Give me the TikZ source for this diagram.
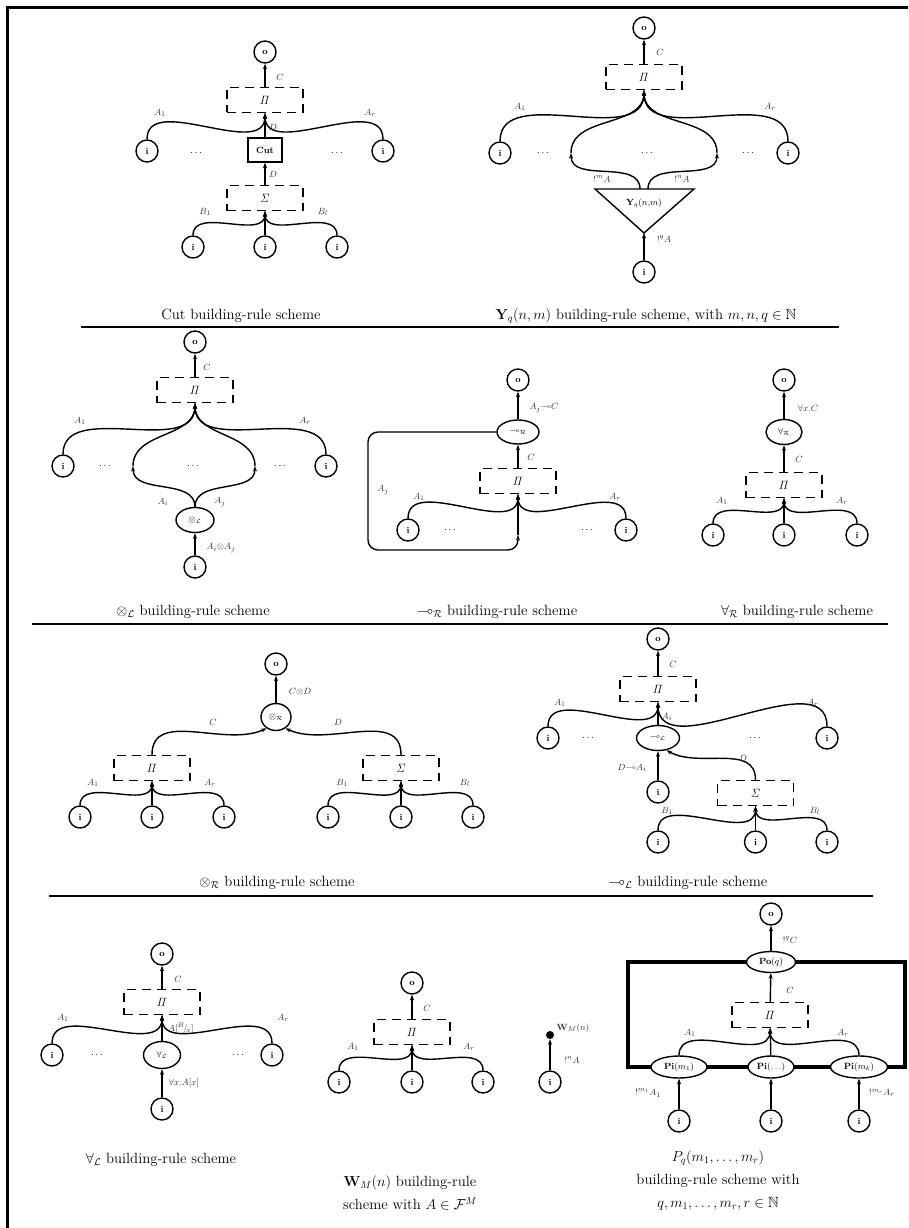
\documentclass[tikz,border=0pt]{standalone}
\usepackage{amsmath,amssymb}
\usetikzlibrary{arrows.meta,shapes.geometric,backgrounds}
\begin{document}
\begin{tikzpicture}[x=1pt,y=-1pt,
  lw/.style={line width=1.4pt},
  inode/.style={circle,draw,lw,minimum size=22pt,inner sep=0pt,font=\fontsize{9}{10}\selectfont\bfseries,fill=white},
  dbox/.style={draw,lw,dash pattern=on 9pt off 6pt,minimum width=76pt,minimum height=25pt,inner sep=0pt,font=\fontsize{11.5}{12}\selectfont},
  ell/.style={ellipse,draw,lw,minimum width=38pt,minimum height=25pt,inner sep=0pt,font=\fontsize{9}{10}\selectfont,fill=white},
  lbl/.style={font=\fontsize{9.5}{10}\selectfont,text=black!80,inner sep=0pt},
  dts/.style={font=\fontsize{10}{11}\selectfont,inner sep=0pt},
  arr/.style={lw,-{Stealth[length=5.5pt,width=4pt]}},
  captxt/.style={font=\fontsize{14.8}{23}\selectfont,align=center,inner sep=0pt},
  sepline/.style={line width=1.9pt},
]
\useasboundingbox (0,0) rectangle (908,1228);
\coordinate (f1) at (908,7.5); \coordinate (f2) at (7.5,7.5); \coordinate (f3) at (7.5,1228);
\draw[line width=2.6pt] (f1) -- (f2) -- (f3);

% separators
\coordinate (s1a) at (81,327); \coordinate (s1b) at (839,327);
\coordinate (s2a) at (32,624); \coordinate (s2b) at (888,624);
\coordinate (s3a) at (49,896); \coordinate (s3b) at (873,896);
\draw[sepline] (s1a) -- (s1b);
\draw[sepline] (s2a) -- (s2b);
\draw[sepline] (s3a) -- (s3b);

% ===== Cut =====
\node[inode] (co) at (265,52) {o};
\node[dbox] (cP) at (265,100) {$\mathit{\Pi}$};
\node[draw,lw,minimum width=34pt,minimum height=24pt,inner sep=0pt,font=\fontsize{9}{10}\selectfont\bfseries,fill=white] (ccut) at (265,150) {Cut};
\node[dbox] (cS) at (265,198) {$\mathit{\Sigma}$};
\node[inode] (ci1) at (147,151) {i};
\node[inode] (ci2) at (383,151) {i};
\node[inode] (cb1) at (193,247) {i};
\node[inode] (cb2) at (265,247) {i};
\node[inode] (cb3) at (337,247) {i};
\node[dts] (cd1) at (196,153) {$\ldots$};
\node[dts] (cd2) at (337,153) {$\ldots$};
\draw[arr] (cP) -- (co);
\draw[arr] (ci1.north) to[out=90,in=-90] (cP.south);
\draw[arr] (ci2.north) to[out=90,in=-90] (cP.south);
\draw[arr] (ccut) -- (cP);
\draw[arr] (cS) -- (ccut);
\draw[arr] (cb1.north) to[out=90,in=-90] (cS.south);
\draw[arr] (cb2) -- (cS);
\draw[arr] (cb3.north) to[out=90,in=-90] (cS.south);
\node[lbl] (cl1) at (280,77) {$C$};
\node[lbl] (cl2) at (160,113) {$A_1$};
\node[lbl] (cl3) at (370,113) {$A_r$};
\node[lbl] (cl4) at (273,127) {$D$};
\node[lbl] (cl5) at (273,174) {$D$};
\node[lbl] (cl6) at (205,212) {$B_1$};
\node[lbl] (cl7) at (323,212) {$B_l$};
\node[captxt] (cc) at (241,316) {Cut building-rule scheme};

% ===== Y =====
\node[inode] (yo) at (644,28) {o};
\node[dbox] (yP) at (644,77) {$\mathit{\Pi}$};
\node[inode] (yi1) at (500,153) {i};
\node[inode] (yi2) at (788,153) {i};
\coordinate (ya) at (571,153);
\coordinate (yb) at (717,153);
\coordinate (yt1) at (595,189); \coordinate (yt2) at (694,189); \coordinate (yt3) at (644,233);
\coordinate (ys1) at (640,189); \coordinate (ys2) at (648,189);
\draw[lw,line join=miter] (yt1) -- (yt2) -- (yt3) -- cycle;
\node[font=\fontsize{9}{10}\selectfont,inner sep=0pt] (ylab) at (644,203) {$\mathbf{Y}_q(n{,}m)$};
\node[inode] (yi3) at (644,272) {i};
\draw[arr] (yP) -- (yo);
\draw[arr] (yi1.north) to[out=90,in=-90] (yP.south);
\draw[arr] (yi2.north) to[out=90,in=-90] (yP.south);
\draw[arr] (ys1) to[out=90,in=-90] (ya);
\draw[arr] (ya) to[out=90,in=-90] (yP.south);
\draw[arr] (ys2) to[out=90,in=-90] (yb);
\draw[arr] (yb) to[out=90,in=-90] (yP.south);
\draw[arr] (yi3) -- (yt3);
\node[dts] (yd1) at (543,153) {$\ldots$};
\node[dts] (yd2) at (647,153) {$\ldots$};
\node[dts] (yd3) at (748,153) {$\ldots$};
\node[lbl] (yl1) at (660,52) {$C$};
\node[lbl] (yl2) at (520,107) {$A_1$};
\node[lbl] (yl3) at (770,107) {$A_r$};
\node[lbl] (yl4) at (602,179) {$!^{m}A$};
\node[lbl] (yl5) at (682,179) {$!^{n}A$};
\node[lbl] (yl6) at (664,239) {$!^{q}A$};
\node[captxt] (yc) at (646,316) {$\mathbf{Y}_q(n,m)$ building-rule scheme, with $m,n,q\in\mathbb{N}$};

% ===== tensor L =====
\node[inode] (to) at (195,342) {o};
\node[dbox] (tP) at (195,390) {$\mathit{\Pi}$};
\node[inode] (ti1) at (63,466) {i};
\node[inode] (ti2) at (326,466) {i};
\coordinate (ta) at (133,466); \coordinate (tb) at (255,466);
\node[ell] (tl) at (195,520) {$\otimes_{\mathcal{L}}$};
\node[inode] (ti3) at (195,567) {i};
\draw[arr] (tP) -- (to);
\draw[arr] (ti1.north) to[out=90,in=-90] (tP.south);
\draw[arr] (ti2.north) to[out=90,in=-90] (tP.south);
\draw[arr] (tl.north) to[out=90,in=-90] (ta);
\draw[arr] (ta) to[out=90,in=-90] (tP.south);
\draw[arr] (tl.north) to[out=90,in=-90] (tb);
\draw[arr] (tb) to[out=90,in=-90] (tP.south);
\draw[arr] (ti3) -- (tl);
\node[dts] (td1) at (105,466) {$\ldots$};
\node[dts] (td2) at (193,466) {$\ldots$};
\node[dts] (td3) at (280,466) {$\ldots$};
\node[lbl] (tl1) at (207,367) {$C$};
\node[lbl] (tl2) at (80,421) {$A_1$};
\node[lbl] (tl3) at (305,421) {$A_r$};
\node[lbl] (tl4) at (163,502) {$A_i$};
\node[lbl] (tl5) at (220,502) {$A_j$};
\node[lbl] (tl6) at (221,548) {$A_i{\otimes}A_j$};
\node[captxt] (tc) at (193,612) {$\otimes_{\mathcal{L}}$ building-rule scheme};

% ===== multimap R =====
\node[inode] (mo) at (518,380) {o};
\node[ell,minimum width=42pt,minimum height=24pt] (mr) at (518,432) {$\multimap_{\mathcal{R}}$};
\node[dbox] (mP) at (518,481) {$\mathit{\Pi}$};
\node[inode] (mi1) at (408,530) {i};
\node[inode] (mi2) at (626,530) {i};
\coordinate (maj) at (518,535);
\coordinate (mc1) at (368,432); \coordinate (mc2) at (368,550); \coordinate (mc3) at (518,550);
\draw[arr] (mr) -- (mo);
\draw[arr] (mP) -- (mr);
\draw[arr] (mi1.north) to[out=90,in=-90] (mP.south);
\draw[arr] (mi2.north) to[out=90,in=-90] (mP.south);
\draw[arr,rounded corners=10pt] (mr.west) -- (mc1) -- (mc2) -- (mc3) -- (maj);
\draw[arr] (maj) -- (mP.south);
\node[dts] (md1) at (450,530) {$\ldots$};
\node[dts] (md2) at (587,530) {$\ldots$};
\node[lbl] (ml1) at (544,408) {$A_j{\multimap}C$};
\node[lbl] (ml2) at (531,457) {$C$};
\node[lbl] (ml3) at (419,497) {$A_1$};
\node[lbl] (ml4) at (615,497) {$A_r$};
\node[lbl] (ml5) at (383,490) {$A_j$};
\node[captxt] (mcap) at (497,612) {$\multimap_{\mathcal{R}}$ building-rule scheme};

% ===== forall R =====
\node[inode] (fo) at (784,380) {o};
\node[ell,minimum width=36pt] (fr) at (784,432) {$\forall_{\mathcal{R}}$};
\node[dbox] (fP) at (784,485) {$\mathit{\Pi}$};
\node[inode] (fi1) at (713,535) {i};
\node[inode] (fi2) at (784,535) {i};
\node[inode] (fi3) at (857,535) {i};
\draw[arr] (fr) -- (fo);
\draw[arr] (fP) -- (fr);
\draw[arr] (fi1.north) to[out=90,in=-90] (fP.south);
\draw[arr] (fi2) -- (fP);
\draw[arr] (fi3.north) to[out=90,in=-90] (fP.south);
\node[lbl] (fl1) at (808,408) {$\forall x.C$};
\node[lbl] (fl2) at (799,459) {$C$};
\node[lbl] (fl3) at (722,501) {$A_1$};
\node[lbl] (fl4) at (842,501) {$A_r$};
\node[captxt] (fc) at (797,612) {$\forall_{\mathcal{R}}$ building-rule scheme};

% ===== tensor R =====
\node[inode] (ro) at (276,664) {o};
\node[ell,minimum width=30pt,minimum height=27pt] (rt) at (276,717) {$\otimes_{\mathcal{R}}$};
\node[dbox] (rP) at (152,768) {$\mathit{\Pi}$};
\node[dbox] (rS) at (401,768) {$\mathit{\Sigma}$};
\node[inode] (ra1) at (80,817) {i};
\node[inode] (ra2) at (152,817) {i};
\node[inode] (ra3) at (224,817) {i};
\node[inode] (rb1) at (328,817) {i};
\node[inode] (rb2) at (401,817) {i};
\node[inode] (rb3) at (473,817) {i};
\draw[arr] (rt) -- (ro);
\draw[arr] (rP.north) to[out=90,in=-155] (rt.-130);
\draw[arr] (rS.north) to[out=90,in=-25] (rt.-50);
\draw[arr] (ra1.north) to[out=90,in=-90] (rP.south);
\draw[arr] (ra2) -- (rP);
\draw[arr] (ra3.north) to[out=90,in=-90] (rP.south);
\draw[arr] (rb1.north) to[out=90,in=-90] (rS.south);
\draw[arr] (rb2) -- (rS);
\draw[arr] (rb3.north) to[out=90,in=-90] (rS.south);
\node[lbl] (rl1) at (300,692) {$C{\otimes}D$};
\node[lbl] (rl2) at (213,722) {$C$};
\node[lbl] (rl3) at (338,722) {$D$};
\node[lbl] (rl4) at (93,783) {$A_1$};
\node[lbl] (rl5) at (210,783) {$A_r$};
\node[lbl] (rl6) at (342,783) {$B_1$};
\node[lbl] (rl7) at (465,783) {$B_l$};
\node[captxt] (rc) at (277,883) {$\otimes_{\mathcal{R}}$ building-rule scheme};

% ===== multimap L =====
\node[inode] (lo) at (658,639) {o};
\node[dbox] (lP) at (658,689) {$\mathit{\Pi}$};
\node[inode] (li1) at (548,738) {i};
\node[inode] (li2) at (827,738) {i};
\node[ell,minimum width=43pt] (lm) at (658,738) {$\multimap_{\mathcal{L}}$};
\node[inode] (li3) at (658,792) {i};
\node[dbox] (lS) at (755.5,793) {$\mathit{\Sigma}$};
\node[inode] (lb1) at (658,842) {i};
\node[inode] (lb2) at (755.5,842) {i};
\node[inode] (lb3) at (827,842) {i};
\draw[arr] (lP) -- (lo);
\draw[arr] (li1.north) to[out=90,in=-90] (lP.south);
\draw[arr] (li2.north) to[out=90,in=-90] (lP.south);
\draw[arr] (lm) -- (lP);
\draw[arr] (li3) -- (lm);
\draw[arr] (lS.north) to[out=90,in=-30] (lm.-55);
\draw[arr] (lb1.north) to[out=90,in=-90] (lS.south);
\draw[arr] (lb2) -- (lS);
\draw[arr] (lb3.north) to[out=90,in=-90] (lS.south);
\node[dts] (ld1) at (588,738) {$\ldots$};
\node[dts] (ld2) at (755,738) {$\ldots$};
\node[lbl] (ll1) at (673,664) {$C$};
\node[lbl] (ll2) at (560,703) {$A_1$};
\node[lbl] (ll3) at (813,703) {$A_r$};
\node[lbl] (ll4) at (667,717) {$A_i$};
\node[lbl] (ll5) at (632,768) {$D{\multimap}A_i$};
\node[lbl] (ll6) at (743,758) {$D$};
\node[lbl] (ll7) at (667,811) {$B_1$};
\node[lbl] (ll8) at (815,811) {$B_l$};
\node[captxt] (lc) at (688,883) {$\multimap_{\mathcal{L}}$ building-rule scheme};

% ===== forall L =====
\node[inode] (ao) at (162,954) {o};
\node[dbox] (aP) at (162,1002) {$\mathit{\Pi}$};
\node[inode] (ai1) at (52,1055) {i};
\node[inode] (ai2) at (272,1055) {i};
\node[ell,minimum width=37pt,minimum height=27pt] (al) at (162,1055) {$\forall_{\mathcal{L}}$};
\node[inode] (ai3) at (162,1109) {i};
\draw[arr] (aP) -- (ao);
\draw[arr] (ai1.north) to[out=90,in=-90] (aP.south);
\draw[arr] (ai2.north) to[out=90,in=-90] (aP.south);
\draw[arr] (al) -- (aP);
\draw[arr] (ai3) -- (al);
\node[dts] (ad1) at (97,1055) {$\ldots$};
\node[dts] (ad2) at (238,1055) {$\ldots$};
\node[lbl] (al1) at (178,979) {$C$};
\node[lbl] (al2) at (63,1018) {$A_1$};
\node[lbl] (al3) at (283,1018) {$A_r$};
\node[lbl] (al4) at (181,1028) {$A[{}^{B}\!/\!_{x}]$};
\node[lbl] (al5) at (184,1083) {$\forall x.A[x]$};
\node[captxt] (ac) at (161,1160) {$\forall_{\mathcal{L}}$ building-rule scheme};

% ===== W =====
\node[inode] (wo) at (412,983) {o};
\node[dbox] (wP) at (412,1032) {$\mathit{\Pi}$};
\node[inode] (wi1) at (339,1082) {i};
\node[inode] (wi2) at (412,1082) {i};
\node[inode] (wi3) at (483,1082) {i};
\node[circle,fill,inner sep=0pt,minimum size=8pt] (wd) at (550,1035) {};
\node[inode] (wi4) at (550,1082) {i};
\draw[arr] (wP) -- (wo);
\draw[arr] (wi1.north) to[out=90,in=-90] (wP.south);
\draw[arr] (wi2) -- (wP);
\draw[arr] (wi3.north) to[out=90,in=-90] (wP.south);
\draw[arr] (wi4) -- (wd);
\node[lbl] (wl1) at (427,1008) {$C$};
\node[lbl] (wl2) at (353,1047) {$A_1$};
\node[lbl] (wl3) at (469,1047) {$A_r$};
\node[lbl] (wl4) at (573,1028) {$\mathbf{W}_{M}(n)$};
\node[lbl] (wl5) at (572,1060) {$!^{n}A$};
\node[captxt] (wc) at (410,1193) {$\mathbf{W}_M(n)$ building-rule\\scheme with $A\in\mathcal{F}^M$};

% ===== P =====
\node[inode] (po) at (771,914) {o};
\node[ell,minimum width=49pt,minimum height=21pt] (pO) at (771,962) {\textbf{Po}$(q)$};
\node[dbox] (pP) at (770,1015) {$\mathit{\Pi}$};
\node[ell,minimum width=56pt,minimum height=22pt] (pI1) at (679,1067) {\textbf{Pi}$(m_1)$};
\node[ell,minimum width=46pt,minimum height=22pt] (pI2) at (771,1067) {\textbf{Pi}$(\ldots)$};
\node[ell,minimum width=57pt,minimum height=22pt] (pI3) at (859,1067) {\textbf{Pi}$(m_k)$};
\node[inode] (pi1) at (679,1121) {i};
\node[inode] (pi2) at (771,1121) {i};
\node[inode] (pi3) at (859,1121) {i};
\coordinate (pr1) at (628,962); \coordinate (pr2) at (905,1067);
\begin{scope}[on background layer]
\draw[line width=4pt] (pr1) rectangle (pr2);
\end{scope}
\draw[arr] (pO) -- (po);
\draw[arr] (pP) -- (pO);
\draw[arr] (pI1.north) to[out=90,in=-90] (pP.south);
\draw[arr] (pI2) -- (pP);
\draw[arr] (pI3.north) to[out=90,in=-90] (pP.south);
\draw[arr] (pi1) -- (pI1);
\draw[arr] (pi2) -- (pI2);
\draw[arr] (pi3) -- (pI3);
\node[lbl] (pl1) at (790,940) {$!^{q}C$};
\node[lbl] (pl2) at (790,990) {$C$};
\node[lbl] (pl3) at (690,1033) {$A_1$};
\node[lbl] (pl4) at (843,1033) {$A_r$};
\node[lbl] (pl5) at (648,1093) {$!^{m_1}A_1$};
\node[lbl,font=\fontsize{8}{8}\selectfont] (pl6) at (771,1093) {$\vdots$};
\node[lbl] (pl7) at (882,1093) {$!^{m_r}A_r$};
\node[captxt] (pc) at (718,1180) {$P_q(m_1,\ldots,m_r)$\\building-rule scheme with\\$q,m_1,\ldots,m_r,r\in\mathbb{N}$};
\end{tikzpicture}
\end{document}
